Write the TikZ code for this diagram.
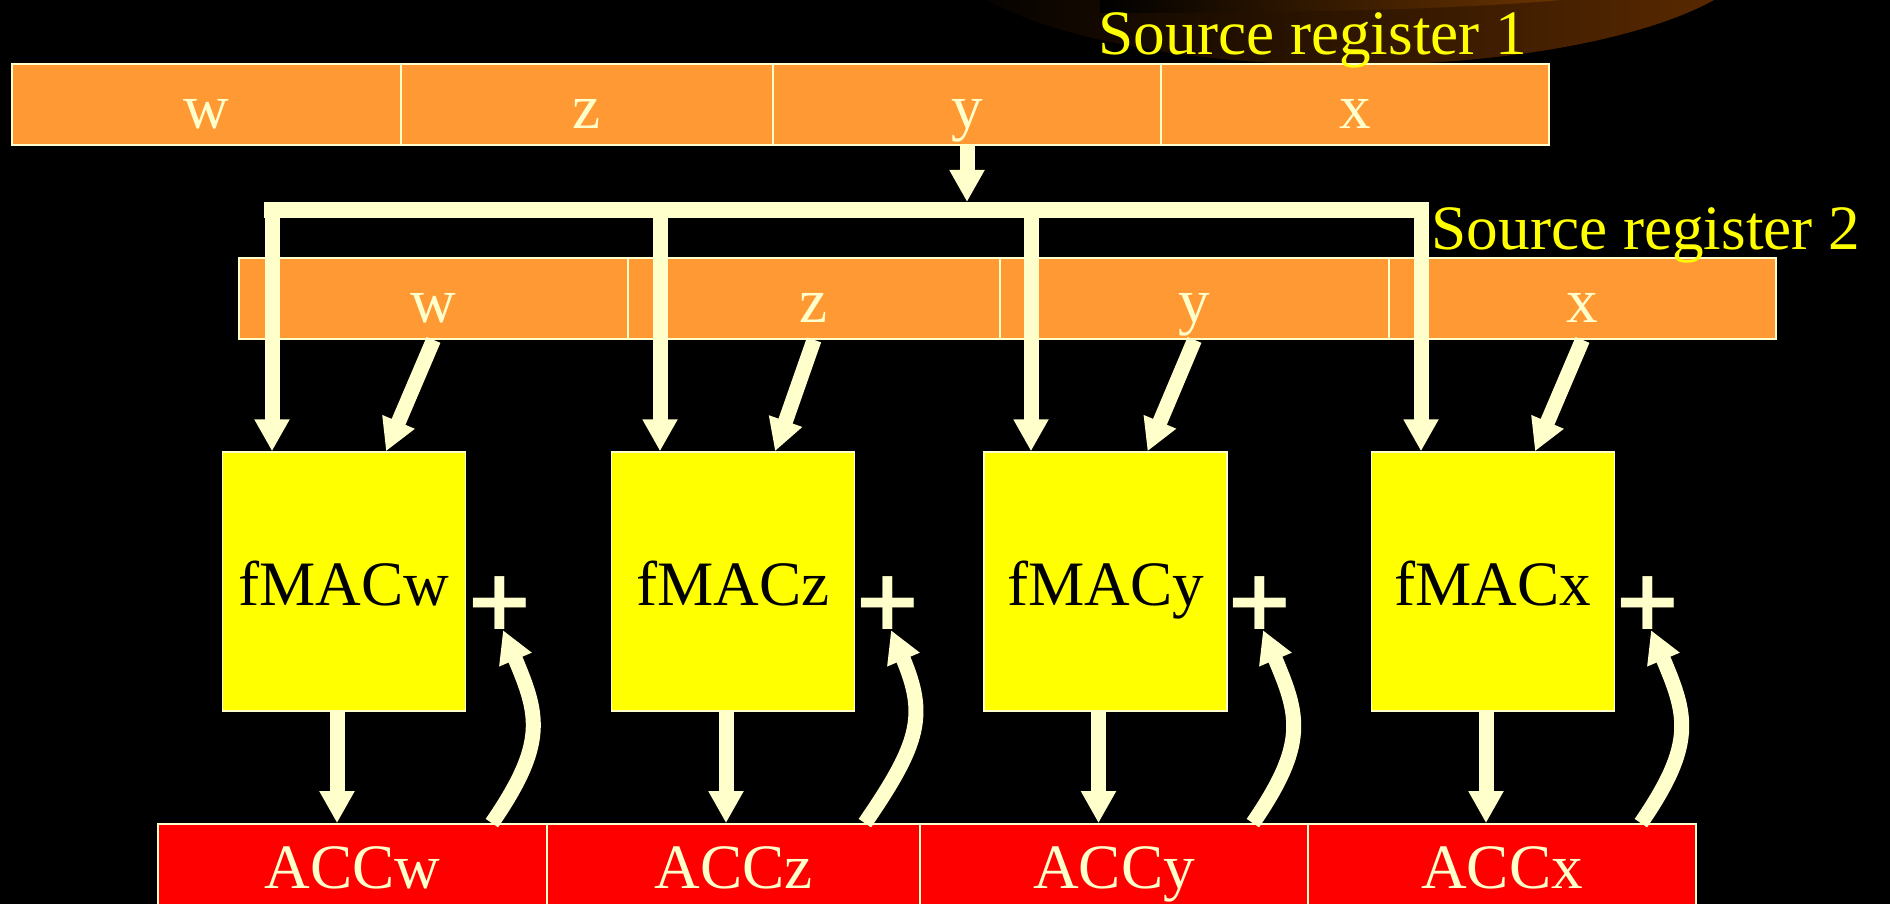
\documentclass[tikz,border=0pt]{standalone}
\usepackage{fontspec}
\setmainfont{Liberation Serif}
\newfontfamily\plusfont{DejaVu Sans}
\usepackage{tikz}
\usetikzlibrary{arrows.meta}
\definecolor{pale}{HTML}{FFFFCC}
\definecolor{regorange}{HTML}{FF9933}
\definecolor{accred}{HTML}{FF0000}
\definecolor{macyellow}{HTML}{FFFF00}
\definecolor{glowdark}{HTML}{5E2B00}
\definecolor{glowlight}{HTML}{8A4300}

\begin{document}
\begin{tikzpicture}[
  reg/.style={draw=pale, line width=0.5pt, fill=regorange, text=pale, minimum height=0.81cm, inner sep=0pt, text height=0.48cm, text depth=0pt, font=\fontsize{18}{18}\selectfont},
  mac/.style={draw=pale, line width=0.4pt, fill=macyellow, text=black, minimum width=2.43cm, minimum height=2.59cm, inner sep=0pt, text height=0.48cm, text depth=0pt, font=\fontsize{18}{18}\selectfont},
  acc/.style={reg, fill=accred},
  lbl/.style={anchor=base west, inner sep=0pt, text=macyellow, font=\fontsize{18}{18}\selectfont},
  plus/.style={inner sep=0pt, text=pale, font=\plusfont\bfseries\fontsize{24}{24}\selectfont},
  arrow/.style={-{Triangle[length=3.2mm, width=3.3mm]}, line width=1.5mm, pale},
  bus/.style={line width=1.6mm, pale, line cap=rect}
]
  \useasboundingbox (0,0) rectangle (18.9,-9.04);
  \clip (0,0) rectangle (18.9,-9.04);
  \fill[black] (0,0) rectangle (18.9,-9.04);
  \shade[left color=black, right color=glowdark] (13.5,0.6) ellipse [x radius=4.15, y radius=1.25];
  \shade[left color=black, right color=glowlight] (11.0,0.2) -- (11.0,-0.13) .. controls (13.5,-0.13) and (15.9,-0.08) .. (16.95,0.2) -- cycle;

  \node[reg, minimum width=3.89cm] (s1w) at (2.065,-1.045) {w};
  \node[reg, minimum width=3.72cm] (s1z) at (5.87,-1.045) {z};
  \node[reg, minimum width=3.88cm] (s1y) at (9.67,-1.045) {y};
  \node[reg, minimum width=3.88cm] (s1x) at (13.55,-1.045) {x};
  \node[lbl] (lbl1) at (10.98,-0.55) {Source register 1};

  \node[reg, minimum width=3.89cm] (s2w) at (4.335,-2.985) {w};
  \node[reg, minimum width=3.72cm] (s2z) at (8.14,-2.985) {z};
  \node[reg, minimum width=3.89cm] (s2y) at (11.945,-2.985) {y};
  \node[reg, minimum width=3.87cm] (s2x) at (15.825,-2.985) {x};
  \node[lbl] (lbl2) at (14.31,-2.50) {Source register 2};

  \node[mac] (fw) at (3.44,-5.815) {fMACw};
  \node[mac] (fz) at (7.33,-5.815) {fMACz};
  \node[mac] (fy) at (11.055,-5.815) {fMACy};
  \node[mac] (fx) at (14.93,-5.815) {fMACx};

  \node[plus] (pw) at (5.00,-6.03) {+};
  \node[plus] (pz) at (8.88,-6.03) {+};
  \node[plus] (py) at (12.60,-6.03) {+};
  \node[plus] (px) at (16.48,-6.03) {+};

  \node[acc, minimum width=3.89cm] (aw) at (3.525,-8.645) {ACCw};
  \node[acc, minimum width=3.73cm] (az) at (7.335,-8.645) {ACCz};
  \node[acc, minimum width=3.88cm] (ay) at (11.14,-8.645) {ACCy};
  \node[acc, minimum width=3.88cm] (ax) at (15.02,-8.645) {ACCx};

  \coordinate (bw) at (2.72,-2.10);
  \coordinate (bz) at (6.60,-2.10);
  \coordinate (by) at (10.31,-2.10);
  \coordinate (bx) at (14.21,-2.10);

  \draw[arrow, shorten >=0.08cm] (s1y.south) -- (s1y.south |- bw);
  \draw[bus] (bw) -- (bx);
  \draw[arrow] (bw) -- (bw |- fw.north);
  \draw[arrow] (bz) -- (bz |- fz.north);
  \draw[arrow] (by) -- (by |- fy.north);
  \draw[arrow] (bx) -- (bx |- fx.north);

  \draw[arrow] (s2w.south) -- ([xshift=0.42cm]fw.north);
  \draw[arrow] (s2z.south) -- ([xshift=0.42cm]fz.north);
  \draw[arrow] (s2y.south) -- ([xshift=0.42cm]fy.north);
  \draw[arrow] (s2x.south) -- ([xshift=0.42cm]fx.north);

  \draw[arrow] ([xshift=-0.07cm]fw.south) -- ([xshift=-0.07cm]fw.south |- aw.north);
  \draw[arrow] ([xshift=-0.07cm]fz.south) -- ([xshift=-0.07cm]fz.south |- az.north);
  \draw[arrow] ([xshift=-0.07cm]fy.south) -- ([xshift=-0.07cm]fy.south |- ay.north);
  \draw[arrow] ([xshift=-0.07cm]fx.south) -- ([xshift=-0.07cm]fx.south |- ax.north);

  \draw[arrow] ([xshift=-0.56cm]aw.north east) .. controls +(0.55,0.8) and +(0.36,-0.85) .. ([xshift=0.03cm]pw.south);
  \draw[arrow] ([xshift=-0.56cm]az.north east) .. controls +(0.55,0.8) and +(0.36,-0.85) .. ([xshift=0.03cm]pz.south);
  \draw[arrow] ([xshift=-0.56cm]ay.north east) .. controls +(0.55,0.8) and +(0.36,-0.85) .. ([xshift=0.03cm]py.south);
  \draw[arrow] ([xshift=-0.56cm]ax.north east) .. controls +(0.55,0.8) and +(0.36,-0.85) .. ([xshift=0.03cm]px.south);
\end{tikzpicture}
\end{document}
